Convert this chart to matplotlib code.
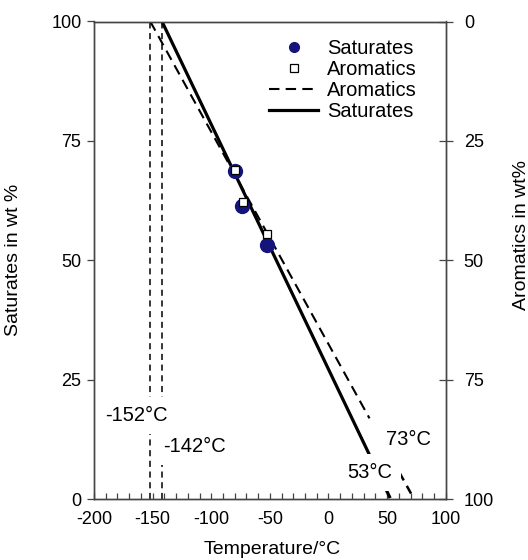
import matplotlib
matplotlib.use("Agg")
import matplotlib.pyplot as plt
import numpy as np

plt.rcParams['font.family'] = ['Liberation Sans', 'DejaVu Sans']

# ---- data ----
sat_temp = [-79.4, -73.7, -52.1]
sat_wt = [68.7, 61.4, 53.2]
aro_temp = [-79.4, -73.1, -52.1]
aro_wt = [31.1, 37.7, 44.4]          # on the inverted right axis

# linear fits: temperature at 100 % and at 0 % saturates (i.e. 0 % / 100 % aromatics)
sat_T_top, sat_T_bottom = -142, 53
aro_T_top, aro_T_bottom = -152, 73
fit_T_end = 35                        # end of fitted region
ext_start = {'sat': 2.0, 'aro': 5.5}  # where visible extrapolation resumes (wt %)

vlines_T = [-152, -142]
ann_labels = ['-152°C', '-142°C', '73°C', '53°C']
ann_pos = [(-163.5, 17.5), (-114.5, 11.0), (68.5, 12.5), (35.0, 5.5)]

xticks = [-200, -150, -100, -50, 0, 50, 100]
yticks = [0, 25, 50, 75, 100]

navy = '#14147a'


def y_at(T, T_top, T_bot):
    return 100.0 * (T_bot - T) / (T_bot - T_top)


def T_at(y, T_top, T_bot):
    return T_bot + (T_top - T_bot) * y / 100.0


fig = plt.figure(figsize=(5.28, 5.6), dpi=100)
ax = fig.add_axes([94 / 528, 1 - 499 / 560, (445.7 - 94) / 528, (499 - 21.5) / 560])
ax2 = ax.twinx()

ax.set_xlim(-200, 100)
ax.set_ylim(0, 100)
ax2.set_ylim(100, 0)

# vertical dashed lines
for T in vlines_T:
    ax.plot([T, T], [0, 100], color='black', lw=1.1, dashes=(4, 3), zorder=2)

# saturates fit (solid)
ax.plot([sat_T_top, fit_T_end], [100, y_at(fit_T_end, sat_T_top, sat_T_bottom)],
        color='black', lw=2.3, solid_capstyle='butt', zorder=3)
ys = ext_start['sat']
ax.plot([T_at(ys, sat_T_top, sat_T_bottom), sat_T_bottom], [ys, 0],
        color='black', lw=2.3, dashes=(3, 2), zorder=3)

# aromatics fit (dashed)
ax.plot([aro_T_top, fit_T_end], [100, y_at(fit_T_end, aro_T_top, aro_T_bottom)],
        color='black', lw=1.5, dashes=(5, 3), zorder=3)
ya = ext_start['aro']
ax.plot([T_at(ya, aro_T_top, aro_T_bottom), aro_T_bottom], [ya, 0],
        color='black', lw=1.8, dashes=(3.5, 2.5), zorder=3)

# data points
ax.plot(sat_temp, sat_wt, 'o', ms=10, color=navy, mec=navy, zorder=4)
ax2.plot(aro_temp, aro_wt, 's', ms=6, mfc='white', mec='black', mew=0.9, zorder=5)

# annotations
for txt, (tx, ty) in zip(ann_labels, ann_pos):
    ax.text(tx, ty, txt, fontsize=14.5, ha='center', va='center', zorder=6,
            bbox=dict(boxstyle='square,pad=0.45', fc='white', ec='none'))

# legend
from matplotlib.lines import Line2D
handles = [
    Line2D([], [], ls='none', marker='o', ms=7, color=navy),
    Line2D([], [], ls='none', marker='s', ms=6, mfc='white', mec='black', mew=0.9),
    Line2D([], [], color='black', lw=1.5, dashes=(5, 3)),
    Line2D([], [], color='black', lw=2.3),
]
labels = ['Saturates', 'Aromatics', 'Aromatics', 'Saturates']
ax2.legend(handles, labels, loc='upper right', bbox_to_anchor=(0.957, 0.993),
           frameon=False, fontsize=14.5, handlelength=2.4, handletextpad=0.45,
           labelspacing=0.1, borderpad=0.2)

# axes styling
spine_c = '#444444'
for a in (ax, ax2):
    for s in a.spines.values():
        s.set_color(spine_c)
        s.set_linewidth(1.0)

ax.set_xticks(xticks)
ax.set_xticklabels([str(v) for v in xticks])
ax.set_xticks(np.arange(-200, 101, 10), minor=True)
ax.tick_params(axis='x', which='both', direction='in', length=4.5, width=0.9,
               color=spine_c, labelsize=13, pad=9)
ax.set_yticks(yticks)
ax.tick_params(axis='y', which='major', direction='out', length=5, width=0.9,
               color=spine_c, labelsize=13, pad=4)
ax2.set_yticks(yticks)
ax2.tick_params(axis='y', which='major', direction='inout', length=10, width=0.9,
                color=spine_c, labelsize=13, pad=8)

ax.set_xlabel('Temperature/°C', fontsize=14)
ax.xaxis.set_label_coords(0.507, -0.088)
ax.set_ylabel('Saturates in wt %', fontsize=14)
ax.yaxis.set_label_coords(-0.205, 0.5)
ax2.set_ylabel('Aromatics in wt%', fontsize=14)
ax2.yaxis.set_label_coords(1.19, 0.553)

fig.savefig('out.png', dpi=100)
